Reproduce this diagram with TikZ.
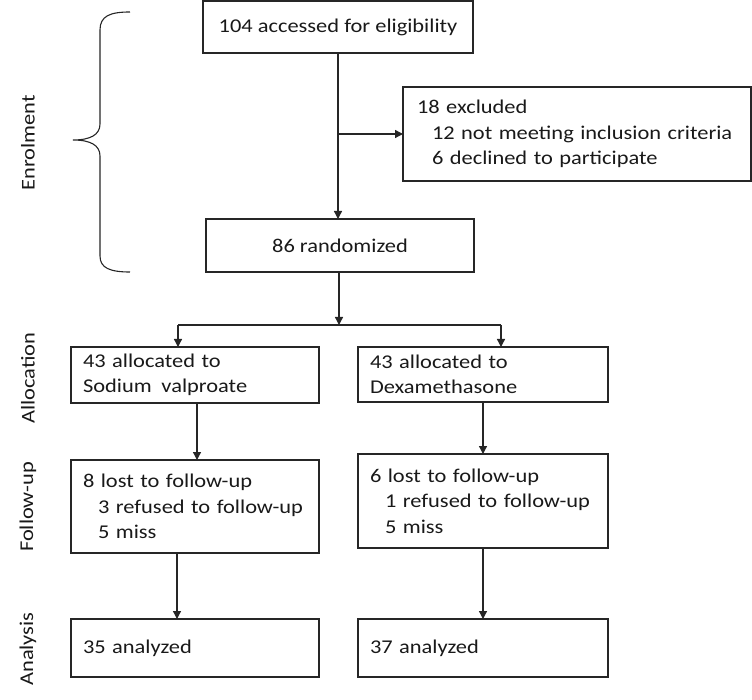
\documentclass[tikz,border=0pt]{standalone}
\usepackage{fontspec}
\setmainfont{Carlito}[FakeStretch=1.15]
\usetikzlibrary{arrows.meta}
\tikzset{
  box/.style={draw=black!85, line width=1.3pt, anchor=north west, outer sep=0pt, inner ysep=0pt,
    font=\fontsize{19.5}{25.5}\selectfont, text=black!90},
  lbox/.style={box, inner xsep=12pt, align=left},
  cbox/.style={box, align=center},
  arr/.style={draw=black!85, line width=1.3pt, -{Triangle[width=8pt,length=8pt]}},
  ln/.style={draw=black!85, line width=1.3pt},
  side/.style={rotate=90, font=\fontsize{19.5}{25.5}\selectfont, text=black!90},
}
\newcommand{\ind}{\hspace*{15pt}}
\begin{document}
\begin{tikzpicture}[x=1pt,y=-1pt]
\useasboundingbox (0,0) rectangle (752,700);
% side labels
\node[side] (lenr) at (28,143) {Enrolment};
\node[side] (lall) at (28,378) {Allocation};
\node[side] (lfu) at (28,507) {Follow-up};
\node[side] (lan) at (28,649) {Analysis};
% brace
\draw[ln, line width=1.1pt] (130,12) .. controls (110,12) and (100,16) .. (100,30) -- (100,124)
  .. controls (100,135) and (90,140) .. (73,140)
  .. controls (90,140) and (100,145) .. (100,156) -- (100,256)
  .. controls (100,268) and (110,272) .. (130,272);
% boxes
\node[cbox, minimum width=270pt, minimum height=52pt] (top) at (203,1) {104 accessed for eligibility};
\node[lbox, minimum width=348pt, text width=320pt, minimum height=94pt] (excl) at (403,87)
  {18 excluded\\ \ind 12 not meeting inclusion criteria\\ \ind 6 declined to participate};
\node[cbox, minimum width=268pt, minimum height=53pt] (rand) at (206,219) {86 randomized};
\node[lbox, minimum width=248pt, text width=224pt, minimum height=56pt] (allocL) at (71,347)
  {43 allocated to\\ Sodium\, valproate};
\node[lbox, minimum width=250pt, text width=226pt, minimum height=55pt] (allocR) at (358,347)
  {43 allocated to\\ Dexamethasone};
\node[lbox, minimum width=248pt, text width=224pt, minimum height=93pt] (fuL) at (71,460)
  {8 lost to follow-up\\ \ind 3 refused to follow-up\\ \ind 5 miss};
\node[lbox, minimum width=250pt, text width=226pt, minimum height=94pt] (fuR) at (358,454)
  {6 lost to follow-up\\ \ind 1 refused to follow-up\\ \ind 5 miss};
\node[lbox, minimum width=248pt, text width=224pt, minimum height=58pt] (anL) at (71,619)
  {35 analyzed};
\node[lbox, minimum width=250pt, text width=226pt, minimum height=58pt] (anR) at (358,619)
  {37 analyzed};
% connectors
\coordinate (br) at (338,134);
\coordinate (split) at (339,325);
\coordinate (sl) at (178,325);
\coordinate (sr) at (501,325);
\draw[arr] (top.south) -- (top.south |- rand.north);
\draw[arr] (br) -- (excl.west |- br);
\draw[arr] (rand.south -| split) -- (split);
\draw[ln] (sl) -- (sr);
\draw[arr] (sl) -- (sl |- allocL.north);
\draw[arr] (sr) -- (sr |- allocR.north);
\draw[arr] ([xshift=2pt]allocL.south) -- ([xshift=2pt]allocL.south |- fuL.north);
\draw[arr] ([xshift=-18pt]fuL.south) -- ([xshift=-18pt]fuL.south |- anL.north);
\draw[arr] (allocR.south) -- (allocR.south |- fuR.north);
\draw[arr] (fuR.south) -- (fuR.south |- anR.north);
\end{tikzpicture}
\end{document}
